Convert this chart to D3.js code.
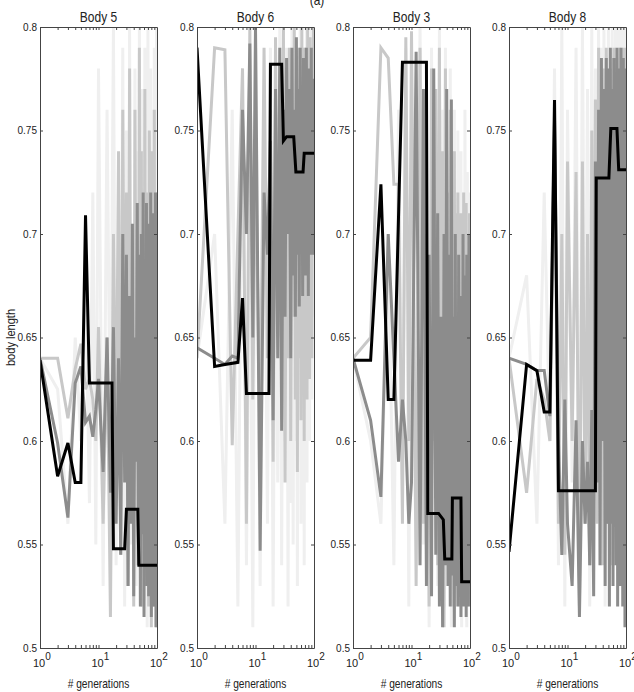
<!DOCTYPE html>
<html>
<head>
<meta charset="utf-8">
<script src="https://cdn.jsdelivr.net/npm/d3@7"></script>
<style>
  body { margin: 0; background: #fff; }
  text { font-family: "Liberation Sans Narrow", "Liberation Sans", Arial, sans-serif; fill: #222; }
</style>
</head>
<body>
<script>
// generations sampled along the log x axis
const generations = [1,2,3,4,5,6,7,8,9,10,12,14,16,18,20,22,24,26,28,30,32,34,36,38,40,42,44,46,48,50,
  52,54,56,58,60,62,64,66,68,70,72,74,76,78,80,82,84,86,88,90,92,94,96,98,100];

const titles = ["Body 5", "Body 6", "Body 3", "Body 8"];
const yTicks = [0.5, 0.55, 0.6, 0.65, 0.7, 0.75, 0.8];
const yTickLabels = ["0.5", "0.55", "0.6", "0.65", "0.7", "0.75", "0.8"];
const xMajor = [1, 10, 100];
const xMajorExp = ["0", "1", "2"];

// Body 5
const body5Light = [0.640,0.625,0.560,0.650,0.600,0.680,0.570,0.720,0.550,0.780, 0.530,0.760,0.590,0.800,0.540,0.720,0.600,0.790,0.520,0.750,
  0.580,0.800,0.550,0.700,0.610,0.780,0.530,0.740,0.590,0.800, 0.520,0.770,0.560,0.720,0.600,0.790,0.540,0.750,0.510,0.800,
  0.570,0.730,0.530,0.780,0.600,0.760,0.520,0.700,0.580,0.790, 0.540,0.750,0.560,0.800,0.520];
const body5Mid = [0.640,0.640,0.611,0.635,0.647,0.625,0.630,0.620,0.600,0.655, 0.560,0.650,0.515,0.700,0.590,0.740,0.545,0.760,0.600,0.720,
  0.530,0.780,0.580,0.700,0.520,0.760,0.610,0.690,0.540,0.790, 0.560,0.740,0.520,0.700,0.600,0.770,0.530,0.720,0.580,0.680,
  0.520,0.750,0.560,0.700,0.510,0.740,0.540,0.700,0.520,0.760, 0.560,0.690,0.530,0.720,0.510];
const body5Dark = [0.640,0.599,0.563,0.628,0.636,0.609,0.612,0.602,0.615,0.630, 0.585,0.650,0.575,0.655,0.560,0.640,0.545,0.700,0.580,0.690,
  0.530,0.670,0.560,0.705,0.525,0.650,0.590,0.715,0.540,0.690, 0.520,0.700,0.555,0.720,0.515,0.680,0.545,0.715,0.530,0.705,
  0.525,0.690,0.560,0.720,0.515,0.700,0.540,0.710,0.520,0.695, 0.530,0.720,0.510,0.680,0.540];
const body5BestGen = [1,2,3,4,5,6,7,17,18,28,30,47,49,100];
const body5Best = [0.639,0.583,0.599,0.580,0.580,0.709,0.628,0.628,0.548,0.548,0.567,0.567,0.540,0.540];

// Body 6
const body6Light = [0.640,0.700,0.560,0.760,0.520,0.780,0.540,0.720,0.510,0.800, 0.530,0.760,0.560,0.790,0.520,0.740,0.580,0.800,0.540,0.770,
  0.600,0.790,0.520,0.760,0.570,0.800,0.550,0.750,0.600,0.790, 0.530,0.770,0.620,0.800,0.560,0.760,0.600,0.790,0.540,0.780,
  0.620,0.800,0.580,0.770,0.640,0.790,0.600,0.760,0.650,0.800, 0.620,0.780,0.660,0.800,0.700];
const body6Mid = [0.640,0.790,0.789,0.598,0.700,0.780,0.560,0.800,0.620,0.740, 0.600,0.790,0.640,0.760,0.590,0.795,0.650,0.740,0.610,0.800,
  0.580,0.770,0.640,0.790,0.600,0.760,0.660,0.800,0.620,0.750, 0.585,0.790,0.640,0.770,0.610,0.800,0.660,0.760,0.600,0.790,
  0.650,0.780,0.620,0.800,0.670,0.760,0.630,0.795,0.680,0.770, 0.640,0.790,0.690,0.800,0.740];
const body6Dark = [0.645,0.640,0.637,0.641,0.640,0.760,0.700,0.792,0.650,0.800, 0.547,0.720,0.690,0.745,0.610,0.770,0.640,0.790,0.605,0.760,
  0.660,0.785,0.700,0.770,0.640,0.790,0.680,0.760,0.660,0.795, 0.690,0.770,0.665,0.790,0.700,0.760,0.670,0.785,0.690,0.770,
  0.680,0.790,0.700,0.760,0.670,0.780,0.690,0.770,0.700,0.790, 0.690,0.765,0.705,0.775,0.690];
const body6BestGen = [1,2,3,5,6,7,17,18,28,30,34,45,49,65,68,100];
const body6Best = [0.790,0.636,0.637,0.638,0.669,0.623,0.623,0.782,0.782,0.745,0.747,0.747,0.730,0.730,0.739,0.739];

// Body 3
const body3Light = [0.640,0.600,0.560,0.700,0.540,0.760,0.580,0.790,0.520,0.740, 0.600,0.800,0.550,0.770,0.510,0.790,0.620,0.750,0.530,0.800,
  0.580,0.760,0.520,0.790,0.600,0.740,0.540,0.780,0.510,0.720, 0.570,0.760,0.530,0.700,0.590,0.750,0.520,0.720,0.560,0.740,
  0.510,0.700,0.580,0.720,0.530,0.760,0.550,0.700,0.510,0.730, 0.560,0.690,0.520,0.720,0.540];
const body3Mid = [0.640,0.650,0.790,0.785,0.724,0.724,0.560,0.795,0.600,0.798, 0.530,0.790,0.560,0.700,0.520,0.780,0.600,0.770,0.540,0.790,
  0.560,0.740,0.510,0.780,0.580,0.720,0.530,0.760,0.600,0.700, 0.520,0.740,0.560,0.710,0.530,0.720,0.580,0.690,0.540,0.710,
  0.525,0.700,0.560,0.720,0.530,0.690,0.550,0.715,0.520,0.700, 0.560,0.680,0.530,0.710,0.600];
const body3Dark = [0.640,0.610,0.573,0.700,0.640,0.590,0.620,0.600,0.560,0.580, 0.788,0.540,0.770,0.530,0.690,0.525,0.780,0.545,0.710,0.520,
  0.660,0.510,0.700,0.540,0.770,0.530,0.690,0.520,0.765,0.535, 0.660,0.510,0.700,0.530,0.640,0.520,0.690,0.545,0.670,0.515,
  0.650,0.530,0.700,0.520,0.680,0.540,0.660,0.515,0.690,0.530, 0.640,0.520,0.700,0.530,0.560];
const body3BestGen = [1,2,3,4,5,7,18,19,29,35,37,49,50,70,72,100];
const body3Best = [0.639,0.639,0.724,0.620,0.620,0.783,0.783,0.565,0.565,0.562,0.543,0.543,0.5725,0.5725,0.532,0.532];

// Body 8
const body8Light = [0.640,0.680,0.560,0.720,0.600,0.780,0.540,0.800,0.520,0.760, 0.580,0.790,0.530,0.800,0.600,0.770,0.520,0.800,0.560,0.780,
  0.600,0.800,0.540,0.790,0.580,0.800,0.520,0.770,0.600,0.800, 0.560,0.790,0.620,0.800,0.540,0.780,0.600,0.800,0.580,0.790,
  0.620,0.800,0.560,0.780,0.600,0.800,0.540,0.790,0.620,0.800, 0.580,0.790,0.600,0.800,0.620];
const body8Mid = [0.640,0.575,0.630,0.620,0.600,0.750,0.560,0.700,0.545,0.735, 0.600,0.730,0.520,0.735,0.560,0.700,0.540,0.750,0.600,0.765,
  0.560,0.790,0.620,0.760,0.540,0.780,0.600,0.790,0.560,0.770, 0.620,0.780,0.540,0.760,0.600,0.790,0.570,0.770,0.620,0.785,
  0.560,0.760,0.600,0.790,0.540,0.770,0.620,0.780,0.580,0.790, 0.600,0.760,0.560,0.790,0.640];
const body8Dark = [0.640,0.637,0.634,0.634,0.612,0.755,0.600,0.545,0.620,0.560, 0.530,0.610,0.515,0.600,0.560,0.590,0.540,0.615,0.525,0.735,
  0.580,0.760,0.540,0.785,0.600,0.770,0.530,0.785,0.560,0.780, 0.520,0.790,0.560,0.770,0.530,0.785,0.600,0.760,0.540,0.790,
  0.520,0.780,0.580,0.770,0.530,0.790,0.560,0.760,0.520,0.785, 0.550,0.770,0.510,0.780,0.560];
const body8BestGen = [1,2,3,4,5,6,7,30,31,51,55,70,75,100];
const body8Best = [0.5465,0.637,0.634,0.614,0.614,0.7647,0.576,0.576,0.727,0.727,0.751,0.751,0.731,0.731];

const panels = [
  { light: body5Light, mid: body5Mid, dark: body5Dark, bestGen: body5BestGen, best: body5Best },
  { light: body6Light, mid: body6Mid, dark: body6Dark, bestGen: body6BestGen, best: body6Best },
  { light: body3Light, mid: body3Mid, dark: body3Dark, bestGen: body3BestGen, best: body3Best },
  { light: body8Light, mid: body8Mid, dark: body8Dark, bestGen: body8BestGen, best: body8Best },
];

const width = 634, height = 692;
const marginTop = 27, plotH = 621, plotW = 117;
const lefts = [40, 197, 353, 509];

const svg = d3.select("body").append("svg").attr("width", width).attr("height", height);

// minor log ticks 2..9, 20..90
const minorTicks = [2,3,4,5,6,7,8,9,20,30,40,50,60,70,80,90];

svg.append("text").attr("transform", "translate(317,5) scale(0.85,1)").attr("text-anchor", "middle")
  .style("font-size", "14px").text("(a)");

panels.forEach((p, i) => {
  const x = d3.scaleLog().domain([1, 100]).range([0, plotW]);
  const y = d3.scaleLinear().domain([0.5, 0.8]).range([plotH, 0]);
  const g = svg.append("g").attr("transform", `translate(${lefts[i]},${marginTop})`);

  g.append("clipPath").attr("id", "clip" + i)
    .append("rect").attr("width", plotW).attr("height", plotH);

  const plot = g.append("g").attr("clip-path", `url(#clip${i})`);
  const line = d3.line().x(d => x(d[0])).y(d => y(d[1]));

  const series = [
    { vals: p.light, color: "#efefef" },
    { vals: p.mid, color: "#c8c8c8" },
    { vals: p.dark, color: "#8c8c8c" },
  ];
  series.forEach(s => {
    plot.append("path")
      .datum(generations.map((gen, k) => [gen, s.vals[k]]))
      .attr("d", line)
      .attr("fill", "none")
      .attr("stroke", s.color)
      .attr("stroke-width", 3);
  });
  plot.append("path")
    .datum(p.bestGen.map((gen, k) => [gen, p.best[k]]))
    .attr("d", line)
    .attr("fill", "none")
    .attr("stroke", "#000")
    .attr("stroke-width", 3);

  // box + ticks
  const ax = (sel) => sel.selectAll("path.domain").attr("stroke", "#444");
  g.append("g").call(d3.axisLeft(y).tickValues(yTicks).tickSize(-3).tickSizeOuter(0).tickPadding(3)
      .tickFormat((d, k) => yTickLabels[k])).call(ax)
    .selectAll("text").style("font-size", "10px").attr("fill", "#333");
  g.append("g").attr("transform", `translate(${plotW},0)`)
    .call(d3.axisRight(y).tickValues(yTicks).tickSize(-3).tickSizeOuter(0).tickFormat("")).call(ax);
  g.append("g").attr("transform", `translate(0,${plotH})`)
    .call(d3.axisBottom(x).tickValues(minorTicks.concat([10])).tickSize(-3).tickSizeOuter(0).tickFormat("")).call(ax);
  g.append("g")
    .call(d3.axisTop(x).tickValues(minorTicks.concat([10])).tickSize(-3).tickSizeOuter(0).tickFormat("")).call(ax);
  g.selectAll(".tick line").attr("stroke", "#444");

  // 10^n labels
  xMajor.forEach((v, k) => {
    const t = g.append("text").attr("x", x(v) - 7).attr("y", plotH + 19).style("font-size", "11px");
    t.append("tspan").text("10");
    t.append("tspan").attr("dy", -7).style("font-size", "10px").text(xMajorExp[k]);
  });

  g.append("text").attr("transform", `translate(${plotW / 2},${plotH + 40}) scale(0.85,1)`)
    .attr("text-anchor", "middle")
    .style("font-size", "12px").text("# generations");
  g.append("text").attr("transform", `translate(${plotW / 2},-5) scale(0.8,1)`)
    .attr("text-anchor", "middle")
    .style("font-size", "15px").text(titles[i]);
});

svg.append("text")
  .attr("transform", `translate(15,${marginTop + plotH / 2}) rotate(-90) scale(0.85,1)`)
  .attr("text-anchor", "middle")
  .style("font-size", "13px")
  .text("body length");
</script>
</body>
</html>
